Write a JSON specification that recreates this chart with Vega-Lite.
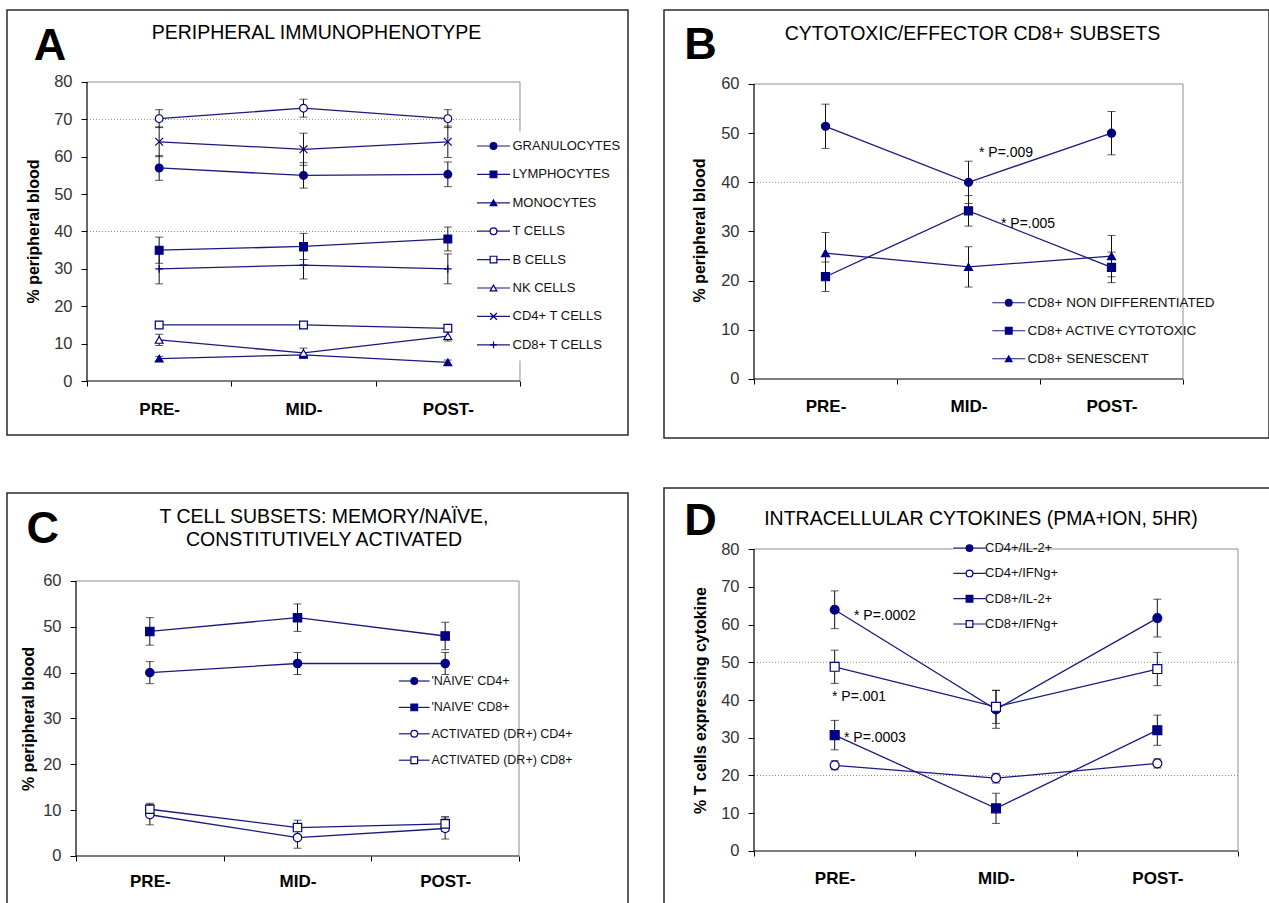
{
  "$schema": "https://vega.github.io/schema/vega-lite/v6.json",
  "background": "white",
  "padding": {"left": 6, "top": 9, "right": 0, "bottom": 0},
  "datasets": {
    "A": [
      {"series": "GRANULOCYTES", "phase": "PRE-", "t": 1, "v": 57, "e": 3.3},
      {"series": "GRANULOCYTES", "phase": "MID-", "t": 2, "v": 55, "e": 3.4},
      {"series": "GRANULOCYTES", "phase": "POST-", "t": 3, "v": 55.3, "e": 3.3},
      {"series": "LYMPHOCYTES", "phase": "PRE-", "t": 1, "v": 35, "e": 3.5},
      {"series": "LYMPHOCYTES", "phase": "MID-", "t": 2, "v": 36, "e": 3.5},
      {"series": "LYMPHOCYTES", "phase": "POST-", "t": 3, "v": 38, "e": 3.2},
      {"series": "MONOCYTES", "phase": "PRE-", "t": 1, "v": 6, "e": 0.6},
      {"series": "MONOCYTES", "phase": "MID-", "t": 2, "v": 7, "e": 0.6},
      {"series": "MONOCYTES", "phase": "POST-", "t": 3, "v": 5, "e": 0.6},
      {"series": "T CELLS", "phase": "PRE-", "t": 1, "v": 70.2, "e": 2.4},
      {"series": "T CELLS", "phase": "MID-", "t": 2, "v": 73, "e": 2.4},
      {"series": "T CELLS", "phase": "POST-", "t": 3, "v": 70.2, "e": 2.4},
      {"series": "B CELLS", "phase": "PRE-", "t": 1, "v": 15, "e": 0.8},
      {"series": "B CELLS", "phase": "MID-", "t": 2, "v": 15, "e": 0.8},
      {"series": "B CELLS", "phase": "POST-", "t": 3, "v": 14.1, "e": 0.8},
      {"series": "NK CELLS", "phase": "PRE-", "t": 1, "v": 11, "e": 1.5},
      {"series": "NK CELLS", "phase": "MID-", "t": 2, "v": 7.5, "e": 1.3},
      {"series": "NK CELLS", "phase": "POST-", "t": 3, "v": 12, "e": 1.3},
      {"series": "CD4+ T CELLS", "phase": "PRE-", "t": 1, "v": 64, "e": 4},
      {"series": "CD4+ T CELLS", "phase": "MID-", "t": 2, "v": 62, "e": 4.3},
      {"series": "CD4+ T CELLS", "phase": "POST-", "t": 3, "v": 64, "e": 4.2},
      {"series": "CD8+ T CELLS", "phase": "PRE-", "t": 1, "v": 30, "e": 4},
      {"series": "CD8+ T CELLS", "phase": "MID-", "t": 2, "v": 31, "e": 3.7},
      {"series": "CD8+ T CELLS", "phase": "POST-", "t": 3, "v": 30, "e": 4}
    ],
    "B": [
      {"series": "CD8+ NON DIFFERENTIATED", "phase": "PRE-", "t": 1, "v": 51.4, "e": 4.5},
      {"series": "CD8+ NON DIFFERENTIATED", "phase": "MID-", "t": 2, "v": 40, "e": 4.3},
      {"series": "CD8+ NON DIFFERENTIATED", "phase": "POST-", "t": 3, "v": 50, "e": 4.4},
      {"series": "CD8+ ACTIVE CYTOTOXIC", "phase": "PRE-", "t": 1, "v": 20.8, "e": 3},
      {"series": "CD8+ ACTIVE CYTOTOXIC", "phase": "MID-", "t": 2, "v": 34.2, "e": 3.1},
      {"series": "CD8+ ACTIVE CYTOTOXIC", "phase": "POST-", "t": 3, "v": 22.7, "e": 3.1},
      {"series": "CD8+ SENESCENT", "phase": "PRE-", "t": 1, "v": 25.6, "e": 4.2},
      {"series": "CD8+ SENESCENT", "phase": "MID-", "t": 2, "v": 22.8, "e": 4.1},
      {"series": "CD8+ SENESCENT", "phase": "POST-", "t": 3, "v": 25, "e": 4.2}
    ],
    "C": [
      {"series": "'NAIVE' CD4+", "phase": "PRE-", "t": 1, "v": 40, "e": 2.4},
      {"series": "'NAIVE' CD4+", "phase": "MID-", "t": 2, "v": 42, "e": 2.4},
      {"series": "'NAIVE' CD4+", "phase": "POST-", "t": 3, "v": 42, "e": 2.4},
      {"series": "'NAIVE' CD8+", "phase": "PRE-", "t": 1, "v": 49, "e": 3},
      {"series": "'NAIVE' CD8+", "phase": "MID-", "t": 2, "v": 52, "e": 3},
      {"series": "'NAIVE' CD8+", "phase": "POST-", "t": 3, "v": 48, "e": 3},
      {"series": "ACTIVATED (DR+) CD4+", "phase": "PRE-", "t": 1, "v": 9, "e": 2.2},
      {"series": "ACTIVATED (DR+) CD4+", "phase": "MID-", "t": 2, "v": 4, "e": 2.3},
      {"series": "ACTIVATED (DR+) CD4+", "phase": "POST-", "t": 3, "v": 6, "e": 2.3},
      {"series": "ACTIVATED (DR+) CD8+", "phase": "PRE-", "t": 1, "v": 10.2, "e": 1.3},
      {"series": "ACTIVATED (DR+) CD8+", "phase": "MID-", "t": 2, "v": 6.2, "e": 1.6},
      {"series": "ACTIVATED (DR+) CD8+", "phase": "POST-", "t": 3, "v": 7, "e": 1.6}
    ],
    "D": [
      {"series": "CD4+/IL-2+", "phase": "PRE-", "t": 1, "v": 63.9, "e": 5},
      {"series": "CD4+/IL-2+", "phase": "MID-", "t": 2, "v": 37.5, "e": 5},
      {"series": "CD4+/IL-2+", "phase": "POST-", "t": 3, "v": 61.7, "e": 5},
      {"series": "CD4+/IFNg+", "phase": "PRE-", "t": 1, "v": 22.7, "e": 1.2},
      {"series": "CD4+/IFNg+", "phase": "MID-", "t": 2, "v": 19.3, "e": 1.3},
      {"series": "CD4+/IFNg+", "phase": "POST-", "t": 3, "v": 23.2, "e": 1.2},
      {"series": "CD8+/IL-2+", "phase": "PRE-", "t": 1, "v": 30.7, "e": 3.9},
      {"series": "CD8+/IL-2+", "phase": "MID-", "t": 2, "v": 11.3, "e": 4},
      {"series": "CD8+/IL-2+", "phase": "POST-", "t": 3, "v": 32, "e": 4},
      {"series": "CD8+/IFNg+", "phase": "PRE-", "t": 1, "v": 48.8, "e": 4.4},
      {"series": "CD8+/IFNg+", "phase": "MID-", "t": 2, "v": 38.2, "e": 4.4},
      {"series": "CD8+/IFNg+", "phase": "POST-", "t": 3, "v": 48.2, "e": 4.4}
    ]
  },
  "spacing": 34,
  "resolve": {"scale": {"shape": "independent", "fill": "independent", "stroke": "independent"}},
  "hconcat": [
    {
      "spacing": 58,
      "bounds": "flush",
      "resolve": {"scale": {"shape": "independent", "fill": "independent", "stroke": "independent"}},
      "vconcat": [
        {
          "width": 621,
          "height": 425,
          "title": {"text": "PERIPHERAL IMMUNOPHENOTYPE", "dx": -1, "dy": 37.4},
          "layer": [
            {"data": {"values": [{}]}, "mark": {"type": "rule", "color": "#8a8a8a", "strokeWidth": 1, "strokeDash": [1, 2]}, "encoding": {"x": {"datum": 0.5}, "x2": {"datum": 3.5}, "y": {"datum": 70}}},
            {"data": {"values": [{}]}, "mark": {"type": "rule", "color": "#8a8a8a", "strokeWidth": 1, "strokeDash": [1, 2]}, "encoding": {"x": {"datum": 0.5}, "x2": {"datum": 3.5}, "y": {"datum": 40}}},
            {"data": {"values": [{}]}, "mark": {"type": "rule", "color": "#909090", "strokeWidth": 1}, "encoding": {"x": {"datum": 0.5}, "x2": {"datum": 3.5}, "y": {"datum": 80}}},
            {"data": {"values": [{}]}, "mark": {"type": "rule", "color": "#909090", "strokeWidth": 1}, "encoding": {"x": {"datum": 3.5}, "y": {"datum": 0}, "y2": {"datum": 80}}},
            {"data": {"values": [{}]}, "mark": {"type": "rule", "color": "#000", "strokeWidth": 1.2}, "encoding": {"x": {"datum": 0.5}, "y": {"datum": 0}, "y2": {"datum": 80}}},
            {"data": {"values": [{}]}, "mark": {"type": "rule", "color": "#000", "strokeWidth": 1.2}, "encoding": {"x": {"datum": 0.5}, "x2": {"datum": 3.5}, "y": {"datum": 0}}},
            {"data": {"name": "A"}, "mark": {"type": "line", "strokeWidth": 1.3},
              "encoding": {
                "x": {"field": "t", "type": "quantitative", "title": null, "scale": {"domain": [-0.0543, 4.2483], "nice": false, "zero": false},
                  "axis": {"title": null, "values": [0.5, 1, 1.5, 2, 2.5, 3, 3.5], "labelExpr": "datum.value === 1 ? 'PRE-' : datum.value === 2 ? 'MID-' : datum.value === 3 ? 'POST-' : ''", "offset": -54, "labelPadding": 23, "tickOpacity": {"condition": {"test": "datum.value % 1 === 0", "value": 0}, "value": 1}}},
                "y": {"field": "v", "type": "quantitative", "title": "% peripheral blood", "scale": {"domain": [-14.448, 99.264], "nice": false, "zero": false},
                  "axis": {"values": [0, 10, 20, 30, 40, 50, 60, 70, 80], "title": "% peripheral blood", "offset": -80, "titleX": -54, "titleY": 221}},
                "stroke": {"field": "series", "type": "nominal", "scale": {"range": ["#1a1a7e"]},
                  "legend": {"orient": "none", "legendX": 472, "legendY": 121.5, "padding": 8, "title": null, "symbolType": "M-4.92,0H4.92", "symbolSize": 45, "symbolStrokeWidth": 1.2, "labelFontSize": 13, "labelExpr": "' '", "labelOpacity": 0, "labelOffset": 12.5, "labelLimit": 80, "rowPadding": 14.4, "fillColor": "white", "zindex": 1}}}},
            {"data": {"name": "A"}, "mark": {"type": "errorbar", "color": "#111", "thickness": 1, "ticks": {"size": 8, "thickness": 1}},
              "encoding": {
                "x": {"field": "t", "type": "quantitative", "title": null, "scale": {"domain": [-0.0543, 4.2483], "nice": false, "zero": false}},
                "y": {"field": "v", "type": "quantitative", "title": "% peripheral blood", "scale": {"domain": [-14.448, 99.264], "nice": false, "zero": false}},
                "yError": {"field": "e"}}},
            {"data": {"name": "A"}, "mark": {"type": "point", "filled": false, "stroke": "#000080", "strokeWidth": 1.2, "opacity": 1, "size": 60},
              "encoding": {
                "x": {"field": "t", "type": "quantitative", "title": null, "scale": {"domain": [-0.0543, 4.2483], "nice": false, "zero": false}},
                "y": {"field": "v", "type": "quantitative", "title": "% peripheral blood", "scale": {"domain": [-14.448, 99.264], "nice": false, "zero": false}},
                "shape": {"field": "series", "type": "nominal", "scale": {"domain": ["GRANULOCYTES", "LYMPHOCYTES", "MONOCYTES", "T CELLS", "B CELLS", "NK CELLS", "CD4+ T CELLS", "CD8+ T CELLS"], "range": ["circle", "square", "triangle-up", "circle", "square", "triangle-up", "M-1,-1L1,1M-1,1L1,-1", "M-1,0H1M0,-1V1"]},
                  "legend": {"orient": "none", "legendX": 480, "legendY": 129.5, "padding": 0, "title": null, "symbolSize": 45, "symbolStrokeWidth": 1.2, "labelFontSize": 13, "labelOffset": 12.5, "labelLimit": 400, "rowPadding": 14.4, "zindex": 2, "encode": {"symbols": {"update": {"stroke": {"value": "#000080"}, "strokeWidth": {"value": 1.2}}}}}},
                "fill": {"field": "series", "type": "nominal", "scale": {"domain": ["GRANULOCYTES", "LYMPHOCYTES", "MONOCYTES", "T CELLS", "B CELLS", "NK CELLS", "CD4+ T CELLS", "CD8+ T CELLS"], "range": ["#000080", "#000080", "#000080", "#ffffff", "#ffffff", "#ffffff", "#ffffff", "#ffffff"]},
                  "legend": {"orient": "none", "legendX": 480, "legendY": 129.5, "padding": 0, "title": null, "symbolSize": 45, "symbolStrokeWidth": 1.2, "labelFontSize": 13, "labelOffset": 12.5, "labelLimit": 400, "rowPadding": 14.4, "zindex": 2, "encode": {"symbols": {"update": {"stroke": {"value": "#000080"}, "strokeWidth": {"value": 1.2}}}}}}
              }},
            {"data": {"values": [{}]}, "mark": {"type": "text", "text": "A", "font": "Liberation Sans", "fontSize": 45, "fontWeight": "bold", "align": "center", "baseline": "middle", "color": "#000"}, "encoding": {"x": {"datum": 0.2436}, "y": {"datum": 89.55}}}
          ]
        },
        {
          "width": 621,
          "height": 420,
          "title": {"text": ["T CELL SUBSETS: MEMORY/NAÏVE,", "CONSTITUTIVELY ACTIVATED"], "lineHeight": 23, "dx": 6.5, "dy": 61.4},
          "layer": [
            {"data": {"values": [{}]}, "mark": {"type": "rule", "color": "#909090", "strokeWidth": 1}, "encoding": {"x": {"datum": 0.5}, "x2": {"datum": 3.5}, "y": {"datum": 60}}},
            {"data": {"values": [{}]}, "mark": {"type": "rule", "color": "#909090", "strokeWidth": 1}, "encoding": {"x": {"datum": 3.5}, "y": {"datum": 0}, "y2": {"datum": 60}}},
            {"data": {"values": [{}]}, "mark": {"type": "rule", "color": "#000", "strokeWidth": 1.2}, "encoding": {"x": {"datum": 0.5}, "y": {"datum": 0}, "y2": {"datum": 60}}},
            {"data": {"values": [{}]}, "mark": {"type": "rule", "color": "#000", "strokeWidth": 1.2}, "encoding": {"x": {"datum": 0.5}, "x2": {"datum": 3.5}, "y": {"datum": 0}}},
            {"data": {"name": "C"}, "mark": {"type": "line", "strokeWidth": 1.3},
              "encoding": {
                "x": {"field": "t", "type": "quantitative", "title": null, "scale": {"domain": [0.0327, 4.238], "nice": false, "zero": false},
                  "axis": {"title": null, "values": [0.5, 1, 1.5, 2, 2.5, 3, 3.5], "labelExpr": "datum.value === 1 ? 'PRE-' : datum.value === 2 ? 'MID-' : datum.value === 3 ? 'POST-' : ''", "offset": -57, "labelPadding": 20, "tickOpacity": {"condition": {"test": "datum.value % 1 === 0", "value": 0}, "value": 1}}},
                "y": {"field": "v", "type": "quantitative", "title": "% peripheral blood", "scale": {"domain": [-12.44, 79.2], "nice": false, "zero": false},
                  "axis": {"values": [0, 10, 20, 30, 40, 50, 60], "title": "% peripheral blood", "offset": -69, "titleX": -47.5, "titleY": 225.5}},
                "stroke": {"field": "series", "type": "nominal", "scale": {"range": ["#1a1a7e"]},
                  "legend": {"orient": "none", "legendX": 394, "legendY": 174.75, "padding": 7, "title": null, "symbolType": "M-4.59,0H4.59", "symbolSize": 45, "symbolStrokeWidth": 1.2, "labelFontSize": 12.5, "labelExpr": "' '", "labelOpacity": 0, "labelOffset": 10.9, "labelLimit": 120, "rowPadding": 13.4, "fillColor": "white", "zindex": 1}}}},
            {"data": {"name": "C"}, "mark": {"type": "errorbar", "color": "#111", "thickness": 1, "ticks": {"size": 8, "thickness": 1}},
              "encoding": {
                "x": {"field": "t", "type": "quantitative", "title": null, "scale": {"domain": [0.0327, 4.238], "nice": false, "zero": false}},
                "y": {"field": "v", "type": "quantitative", "title": "% peripheral blood", "scale": {"domain": [-12.44, 79.2], "nice": false, "zero": false}},
                "yError": {"field": "e"}}},
            {"data": {"name": "C"}, "mark": {"type": "point", "filled": false, "stroke": "#000080", "strokeWidth": 1.2, "opacity": 1, "size": 70},
              "encoding": {
                "x": {"field": "t", "type": "quantitative", "title": null, "scale": {"domain": [0.0327, 4.238], "nice": false, "zero": false}},
                "y": {"field": "v", "type": "quantitative", "title": "% peripheral blood", "scale": {"domain": [-12.44, 79.2], "nice": false, "zero": false}},
                "shape": {"field": "series", "type": "nominal", "scale": {"domain": ["'NAIVE' CD4+", "'NAIVE' CD8+", "ACTIVATED (DR+) CD4+", "ACTIVATED (DR+) CD8+"], "range": ["circle", "square", "circle", "square"]},
                  "legend": {"orient": "none", "legendX": 401, "legendY": 181.75, "padding": 0, "title": null, "symbolSize": 45, "symbolStrokeWidth": 1.2, "labelFontSize": 12.5, "labelOffset": 10.9, "labelLimit": 400, "rowPadding": 13.4, "zindex": 2, "encode": {"symbols": {"update": {"stroke": {"value": "#000080"}, "strokeWidth": {"value": 1.2}}}}}},
                "fill": {"field": "series", "type": "nominal", "scale": {"domain": ["'NAIVE' CD4+", "'NAIVE' CD8+", "ACTIVATED (DR+) CD4+", "ACTIVATED (DR+) CD8+"], "range": ["#000080", "#000080", "#ffffff", "#ffffff"]},
                  "legend": {"orient": "none", "legendX": 401, "legendY": 181.75, "padding": 0, "title": null, "symbolSize": 45, "symbolStrokeWidth": 1.2, "labelFontSize": 12.5, "labelOffset": 10.9, "labelLimit": 400, "rowPadding": 13.4, "zindex": 2, "encode": {"symbols": {"update": {"stroke": {"value": "#000080"}, "strokeWidth": {"value": 1.2}}}}}}
              }},
            {"data": {"values": [{}]}, "mark": {"type": "text", "text": "C", "font": "Liberation Sans", "fontSize": 45, "fontWeight": "bold", "align": "center", "baseline": "middle", "color": "#000"}, "encoding": {"x": {"datum": 0.2745}, "y": {"datum": 71.39}}}
          ]
        }
      ]
    },
    {
      "spacing": 50,
      "bounds": "flush",
      "resolve": {"scale": {"shape": "independent", "fill": "independent", "stroke": "independent"}},
      "vconcat": [
        {
          "width": 605,
          "height": 428,
          "title": {"text": "CYTOTOXIC/EFFECTOR CD8+ SUBSETS", "dx": 6, "dy": 38.9},
          "layer": [
            {"data": {"values": [{}]}, "mark": {"type": "rule", "color": "#8a8a8a", "strokeWidth": 1, "strokeDash": [1, 2]}, "encoding": {"x": {"datum": 0.5}, "x2": {"datum": 3.5}, "y": {"datum": 40}}},
            {"data": {"values": [{}]}, "mark": {"type": "rule", "color": "#909090", "strokeWidth": 1}, "encoding": {"x": {"datum": 0.5}, "x2": {"datum": 3.5}, "y": {"datum": 60}}},
            {"data": {"values": [{}]}, "mark": {"type": "rule", "color": "#909090", "strokeWidth": 1}, "encoding": {"x": {"datum": 3.5}, "y": {"datum": 0}, "y2": {"datum": 60}}},
            {"data": {"values": [{}]}, "mark": {"type": "rule", "color": "#000", "strokeWidth": 1.2}, "encoding": {"x": {"datum": 0.5}, "y": {"datum": 0}, "y2": {"datum": 60}}},
            {"data": {"values": [{}]}, "mark": {"type": "rule", "color": "#000", "strokeWidth": 1.2}, "encoding": {"x": {"datum": 0.5}, "x2": {"datum": 3.5}, "y": {"datum": 0}}},
            {"data": {"name": "B"}, "mark": {"type": "line", "strokeWidth": 1.3},
              "encoding": {
                "x": {"field": "t", "type": "quantitative", "title": null, "scale": {"domain": [-0.1294, 4.1014], "nice": false, "zero": false},
                  "axis": {"title": null, "values": [0.5, 1, 1.5, 2, 2.5, 3, 3.5], "labelExpr": "datum.value === 1 ? 'PRE-' : datum.value === 2 ? 'MID-' : datum.value === 3 ? 'POST-' : ''", "offset": -59, "labelPadding": 22, "tickOpacity": {"condition": {"test": "datum.value % 1 === 0", "value": 0}, "value": 1}}},
                "y": {"field": "v", "type": "quantitative", "title": "% peripheral blood", "scale": {"domain": [-12.0, 75.05], "nice": false, "zero": false},
                  "axis": {"values": [0, 10, 20, 30, 40, 50, 60], "title": "% peripheral blood", "offset": -90, "titleX": -55, "titleY": 220}},
                "stroke": {"field": "series", "type": "nominal", "scale": {"range": ["#1a1a7e"]},
                  "legend": {"orient": "none", "legendX": 330, "legendY": 278, "padding": 8, "title": null, "symbolType": "M-4.92,0H4.92", "symbolSize": 45, "symbolStrokeWidth": 1.2, "labelFontSize": 13.5, "labelExpr": "' '", "labelOpacity": 0, "labelOffset": 12, "labelLimit": 190, "rowPadding": 13, "fillColor": "white", "zindex": 1}}}},
            {"data": {"name": "B"}, "mark": {"type": "errorbar", "color": "#111", "thickness": 1, "ticks": {"size": 8, "thickness": 1}},
              "encoding": {
                "x": {"field": "t", "type": "quantitative", "title": null, "scale": {"domain": [-0.1294, 4.1014], "nice": false, "zero": false}},
                "y": {"field": "v", "type": "quantitative", "title": "% peripheral blood", "scale": {"domain": [-12.0, 75.05], "nice": false, "zero": false}},
                "yError": {"field": "e"}}},
            {"data": {"name": "B"}, "mark": {"type": "point", "filled": false, "stroke": "#000080", "strokeWidth": 1.2, "opacity": 1, "size": 65},
              "encoding": {
                "x": {"field": "t", "type": "quantitative", "title": null, "scale": {"domain": [-0.1294, 4.1014], "nice": false, "zero": false}},
                "y": {"field": "v", "type": "quantitative", "title": "% peripheral blood", "scale": {"domain": [-12.0, 75.05], "nice": false, "zero": false}},
                "shape": {"field": "series", "type": "nominal", "scale": {"domain": ["CD8+ NON DIFFERENTIATED", "CD8+ ACTIVE CYTOTOXIC", "CD8+ SENESCENT"], "range": ["circle", "square", "triangle-up"]},
                  "legend": {"orient": "none", "legendX": 338, "legendY": 286, "padding": 0, "title": null, "symbolSize": 45, "symbolStrokeWidth": 1.2, "labelFontSize": 13.5, "labelOffset": 12, "labelLimit": 400, "rowPadding": 13, "zindex": 2, "encode": {"symbols": {"update": {"stroke": {"value": "#000080"}, "strokeWidth": {"value": 1.2}}}}}},
                "fill": {"field": "series", "type": "nominal", "scale": {"domain": ["CD8+ NON DIFFERENTIATED", "CD8+ ACTIVE CYTOTOXIC", "CD8+ SENESCENT"], "range": ["#000080", "#000080", "#000080"]},
                  "legend": {"orient": "none", "legendX": 338, "legendY": 286, "padding": 0, "title": null, "symbolSize": 45, "symbolStrokeWidth": 1.2, "labelFontSize": 13.5, "labelOffset": 12, "labelLimit": 400, "rowPadding": 13, "zindex": 2, "encode": {"symbols": {"update": {"stroke": {"value": "#000080"}, "strokeWidth": {"value": 1.2}}}}}}
              }},
            {"data": {"values": [{}]}, "mark": {"type": "text", "text": "* P=.009", "font": "Liberation Sans", "fontSize": 14, "align": "left", "baseline": "middle", "color": "#000"}, "encoding": {"x": {"datum": 2.0734}, "y": {"datum": 45.97}}},
            {"data": {"values": [{}]}, "mark": {"type": "text", "text": "* P=.005", "font": "Liberation Sans", "fontSize": 14, "align": "left", "baseline": "middle", "color": "#000"}, "encoding": {"x": {"datum": 2.2273}, "y": {"datum": 31.53}}},
            {"data": {"values": [{}]}, "mark": {"type": "text", "text": "B", "font": "Liberation Sans", "fontSize": 45, "fontWeight": "bold", "align": "center", "baseline": "middle", "color": "#000"}, "encoding": {"x": {"datum": 0.1259}, "y": {"datum": 67.97}}}
          ]
        },
        {
          "width": 610,
          "height": 420,
          "title": {"text": "INTRACELLULAR CYTOKINES (PMA+ION, 5HR)", "dx": 12, "dy": 45.9},
          "layer": [
            {"data": {"values": [{}]}, "mark": {"type": "rule", "color": "#8a8a8a", "strokeWidth": 1, "strokeDash": [1, 2]}, "encoding": {"x": {"datum": 0.5}, "x2": {"datum": 3.5}, "y": {"datum": 50}}},
            {"data": {"values": [{}]}, "mark": {"type": "rule", "color": "#8a8a8a", "strokeWidth": 1, "strokeDash": [1, 2]}, "encoding": {"x": {"datum": 0.5}, "x2": {"datum": 3.5}, "y": {"datum": 20}}},
            {"data": {"values": [{}]}, "mark": {"type": "rule", "color": "#909090", "strokeWidth": 1}, "encoding": {"x": {"datum": 0.5}, "x2": {"datum": 3.5}, "y": {"datum": 80}}},
            {"data": {"values": [{}]}, "mark": {"type": "rule", "color": "#909090", "strokeWidth": 1}, "encoding": {"x": {"datum": 3.5}, "y": {"datum": 0}, "y2": {"datum": 80}}},
            {"data": {"values": [{}]}, "mark": {"type": "rule", "color": "#000", "strokeWidth": 1.2}, "encoding": {"x": {"datum": 0.5}, "y": {"datum": 0}, "y2": {"datum": 80}}},
            {"data": {"values": [{}]}, "mark": {"type": "rule", "color": "#000", "strokeWidth": 1.2}, "encoding": {"x": {"datum": 0.5}, "x2": {"datum": 3.5}, "y": {"datum": 0}}},
            {"data": {"name": "D"}, "mark": {"type": "line", "strokeWidth": 1.3},
              "encoding": {
                "x": {"field": "t", "type": "quantitative", "title": null, "scale": {"domain": [-0.0579, 3.7232], "nice": false, "zero": false},
                  "axis": {"title": null, "values": [0.5, 1, 1.5, 2, 2.5, 3, 3.5], "labelExpr": "datum.value === 1 ? 'PRE-' : datum.value === 2 ? 'MID-' : datum.value === 3 ? 'POST-' : ''", "offset": -57, "labelPadding": 22, "tickOpacity": {"condition": {"test": "datum.value % 1 === 0", "value": 0}, "value": 1}}},
                "y": {"field": "v", "type": "quantitative", "title": "% T cells expressing cytokine", "scale": {"domain": [-15.1, 96.16], "nice": false, "zero": false},
                  "axis": {"values": [0, 10, 20, 30, 40, 50, 60, 70, 80], "title": "% T cells expressing cytokine", "offset": -90, "titleX": -54, "titleY": 212}},
                "stroke": {"field": "series", "type": "nominal", "scale": {"range": ["#1a1a7e"]},
                  "legend": {"orient": "none", "legendX": 289, "legendY": 43.6, "padding": 10, "title": null, "symbolType": "M-4.83,0H4.83", "symbolSize": 45, "symbolStrokeWidth": 1.2, "labelFontSize": 13, "labelExpr": "' '", "labelOpacity": 0, "labelOffset": 9, "labelLimit": 90, "rowPadding": 11.3, "fillColor": "white", "zindex": 1}}}},
            {"data": {"name": "D"}, "mark": {"type": "errorbar", "color": "#111", "thickness": 1, "ticks": {"size": 8, "thickness": 1}},
              "encoding": {
                "x": {"field": "t", "type": "quantitative", "title": null, "scale": {"domain": [-0.0579, 3.7232], "nice": false, "zero": false}},
                "y": {"field": "v", "type": "quantitative", "title": "% T cells expressing cytokine", "scale": {"domain": [-15.1, 96.16], "nice": false, "zero": false}},
                "yError": {"field": "e"}}},
            {"data": {"name": "D"}, "mark": {"type": "point", "filled": false, "stroke": "#000080", "strokeWidth": 1.2, "opacity": 1, "size": 80},
              "encoding": {
                "x": {"field": "t", "type": "quantitative", "title": null, "scale": {"domain": [-0.0579, 3.7232], "nice": false, "zero": false}},
                "y": {"field": "v", "type": "quantitative", "title": "% T cells expressing cytokine", "scale": {"domain": [-15.1, 96.16], "nice": false, "zero": false}},
                "shape": {"field": "series", "type": "nominal", "scale": {"domain": ["CD4+/IL-2+", "CD4+/IFNg+", "CD8+/IL-2+", "CD8+/IFNg+"], "range": ["circle", "circle", "square", "square"]},
                  "legend": {"orient": "none", "legendX": 299, "legendY": 53.6, "padding": 0, "title": null, "symbolSize": 45, "symbolStrokeWidth": 1.2, "labelFontSize": 13, "labelOffset": 9, "labelLimit": 400, "rowPadding": 11.3, "zindex": 2, "encode": {"symbols": {"update": {"stroke": {"value": "#000080"}, "strokeWidth": {"value": 1.2}}}}}},
                "fill": {"field": "series", "type": "nominal", "scale": {"domain": ["CD4+/IL-2+", "CD4+/IFNg+", "CD8+/IL-2+", "CD8+/IFNg+"], "range": ["#000080", "#ffffff", "#000080", "#ffffff"]},
                  "legend": {"orient": "none", "legendX": 299, "legendY": 53.6, "padding": 0, "title": null, "symbolSize": 45, "symbolStrokeWidth": 1.2, "labelFontSize": 13, "labelOffset": 9, "labelLimit": 400, "rowPadding": 11.3, "zindex": 2, "encode": {"symbols": {"update": {"stroke": {"value": "#000080"}, "strokeWidth": {"value": 1.2}}}}}}
              }},
            {"data": {"values": [{}]}, "mark": {"type": "text", "text": "* P=.0002", "font": "Liberation Sans", "fontSize": 14, "align": "left", "baseline": "middle", "color": "#000"}, "encoding": {"x": {"datum": 1.1198}, "y": {"datum": 62.25}}},
            {"data": {"values": [{}]}, "mark": {"type": "text", "text": "* P=.001", "font": "Liberation Sans", "fontSize": 14, "align": "left", "baseline": "middle", "color": "#000"}, "encoding": {"x": {"datum": 0.9834}, "y": {"datum": 40.8}}},
            {"data": {"values": [{}]}, "mark": {"type": "text", "text": "* P=.0003", "font": "Liberation Sans", "fontSize": 14, "align": "left", "baseline": "middle", "color": "#000"}, "encoding": {"x": {"datum": 1.0578}, "y": {"datum": 29.93}}},
            {"data": {"values": [{}]}, "mark": {"type": "text", "text": "D", "font": "Liberation Sans", "fontSize": 45, "fontWeight": "bold", "align": "center", "baseline": "middle", "color": "#000"}, "encoding": {"x": {"datum": 0.1683}, "y": {"datum": 87.47}}}
          ]
        }
      ]
    }
  ],
  "config": {
    "font": "Liberation Sans",
    "view": {"stroke": "#2a2a2a", "strokeWidth": 1.5},
    "title": {"font": "Liberation Sans", "fontSize": 19.5, "fontWeight": "normal", "color": "#000", "anchor": "middle", "frame": "group", "offset": 0, "baseline": "top"},
    "axis": {"domain": false, "grid": false, "tickColor": "#000", "tickWidth": 1, "labelFont": "Liberation Sans", "labelOverlap": false, "labelFlush": false, "labelBound": false},
    "axisX": {"tickSize": 5, "labelFontSize": 17, "labelFontWeight": "bold", "labelColor": "#000", "labelBaseline": "middle"},
    "axisY": {"tickSize": 6, "labelFontSize": 16.5, "labelColor": "#333", "labelPadding": 9, "titleFont": "Liberation Sans", "titleFontSize": 16, "titleFontWeight": "bold", "titleColor": "#000", "titleAngle": 270, "titleAlign": "center", "titleBaseline": "middle"},
    "legend": {"labelFont": "Liberation Sans", "labelColor": "#111", "titlePadding": 0}
  }
}
